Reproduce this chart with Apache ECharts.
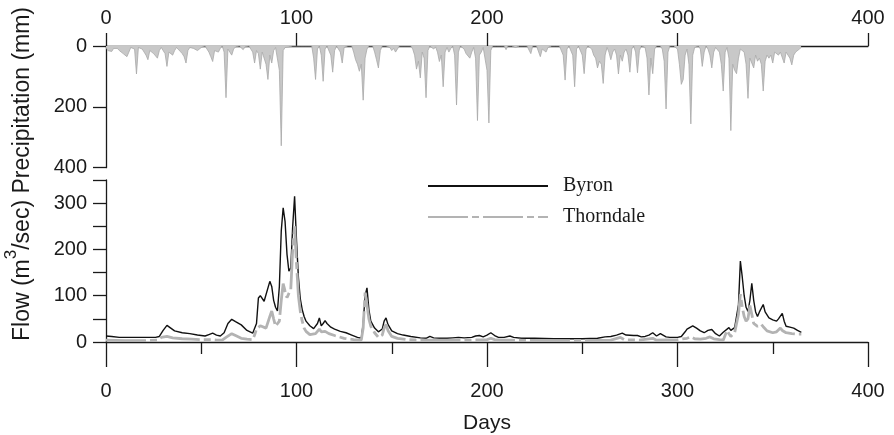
<!DOCTYPE html>
<html><head><meta charset="utf-8">
<script src="https://cdn.jsdelivr.net/npm/echarts@6/dist/echarts.min.js"></script>
<style>html,body{margin:0;padding:0;background:#fff}#c{width:894px;height:435px}</style>
</head><body><div id="c"></div>
<script>
// Daily precipitation (mm), index = day 0..365
const precipitation = [
  5,15,10,18,8,3,8,15,20,25,
  30,35,20,5,0,10,92,5,0,10,
  20,30,45,15,20,25,30,40,15,5,
  10,25,67,20,25,30,15,5,10,18,
  25,35,56,15,5,3,8,10,15,12,
  5,3,0,5,20,35,51,15,10,20,
  8,0,20,170,10,15,30,10,3,0,
  0,5,12,3,0,0,5,20,56,15,
  25,76,20,15,60,110,30,56,15,5,
  10,80,328,15,5,8,3,0,0,0,
  0,0,0,0,0,0,0,0,0,40,
  110,10,0,30,116,10,0,0,30,86,
  15,0,10,20,56,5,0,0,0,0,
  20,45,60,83,60,178,40,10,0,0,
  0,20,45,72,15,0,0,0,0,5,
  15,8,20,10,0,0,0,0,0,0,
  0,10,30,76,50,105,20,40,170,15,
  0,5,10,3,20,51,30,134,20,5,
  20,8,0,30,194,20,0,0,10,25,
  20,40,20,5,40,245,30,20,5,10,
  80,253,15,0,0,0,0,0,0,0,
  12,0,0,0,0,5,0,0,0,0,
  0,0,0,25,0,0,0,5,35,10,
  15,20,5,0,0,0,0,0,0,0,
  30,112,10,0,0,30,134,10,0,0,
  30,91,10,0,0,10,30,40,72,50,
  60,123,30,5,20,45,20,10,30,92,
  30,50,20,10,30,86,10,0,20,88,
  15,0,0,5,40,161,40,91,10,0,
  0,0,10,50,207,20,0,0,0,0,
  10,60,126,110,30,10,60,256,30,5,
  0,0,10,67,20,0,10,30,72,20,
  5,0,20,60,148,20,5,40,278,60,
  80,91,40,10,5,20,60,172,40,40,
  72,30,50,40,60,148,50,30,40,30,
  56,20,15,30,20,25,56,20,25,40,
  62,30,20,15,10,5
];

// Byron flow (m3/sec)
const byronDays = [
  0,3,7,15,20,26,28,30,32,34,
  36,40,44,48,52,54,56,58,60,62,
  64,66,68,71,74,77,79,80,81,83,
  84,86,87,88,89,90,91,92,93,94,
  95,96,97,98,99,100,101,102,103,104,
  105,107,109,110,111,112,113,114,115,116,
  118,120,123,126,129,132,134,135,136,137,
  138,139,141,143,144,145,146,147,148,150,
  153,156,160,165,168,170,172,175,179,182,
  185,188,192,194,196,198,200,202,204,206,
  209,212,214,218,225,235,244,250,258,262,
  265,268,271,273,274,277,279,281,283,285,
  287,289,291,292,294,296,298,300,302,304,
  305,308,310,312,314,316,317,318,320,322,
  324,325,327,328,330,331,332,333,334,335,
  336,337,338,339,340,341,342,343,345,346,
  348,350,352,353,355,356,357,359,361,363,
  365
];
const byronFlow = [
  13,12,10,10,10,10,12,25,36,30,
  24,20,18,15,13,16,19,15,13,20,
  40,49,44,37,25,19,40,95,100,88,
  85,131,120,90,75,67,120,240,290,260,
  190,153,160,250,315,220,140,93,70,55,
  45,35,29,28,40,52,35,40,46,40,
  32,28,23,20,15,10,8,40,100,117,
  70,45,30,22,20,28,45,52,38,24,
  18,15,12,9,8,12,9,8,8,9,
  10,9,10,13,14,11,15,20,14,10,
  10,13,10,8,8,7,7,7,8,11,
  12,15,19,15,12,14,14,11,12,15,
  20,13,18,22,11,10,10,10,12,22,
  28,35,30,24,20,25,28,27,18,13,
  21,20,31,25,31,28,80,175,140,100,
  75,66,90,127,90,65,55,65,81,65,
  52,48,45,50,62,45,34,32,30,25,
  21
];

// Thorndale flow (m3/sec)
const thorndaleDays = [
  0,10,20,27,29,30,32,35,40,45,
  50,55,58,61,63,66,68,71,74,77,
  78,79,81,82,84,86,87,88,89,90,
  91,92,93,94,95,96,97,98,99,100,
  101,102,103,104,105,107,108,110,112,113,
  115,117,120,125,130,134,135,136,137,138,
  139,141,143,144,145,146,147,148,150,153,
  158,165,175,190,200,202,204,210,240,265,
  270,272,280,287,289,300,305,307,309,312,
  315,317,319,322,324,326,327,328,330,331,
  332,333,334,335,336,337,338,339,340,342,
  344,345,347,350,352,354,355,357,360,363,
  365
];
const thorndaleFlow = [
  4,3,3,4,10,14,12,9,7,6,
  5,5,4,4,10,18,14,8,6,5,
  15,28,35,38,30,55,67,50,34,30,
  45,90,126,110,96,100,114,200,250,170,
  100,66,45,30,23,16,14,18,28,22,
  23,18,14,8,5,4,30,107,80,50,
  34,20,10,10,15,30,38,25,12,8,
  5,4,4,4,5,8,5,4,3,4,
  10,5,4,8,4,5,8,11,7,6,
  8,11,7,5,4,25,18,12,20,23,
  60,103,75,55,45,50,79,60,40,34,
  38,33,24,20,22,30,25,20,18,17,
  17
];

const seriesNames = ['Byron', 'Thorndale'];
const dayAxisName = 'Days';
const yTitle = '{a|Flow (m}{s|3}{a|/sec) Precipitation (mm)}';

const INK = '#1a1a1a';
const FONT = 'Liberation Sans';
const axisLine = { show: true, onZero: false, lineStyle: { color: INK, width: 1.3 } };
const tickStyle = { color: INK, width: 1.3 };
const labelBase = { color: INK, fontSize: 20, fontFamily: FONT };

const chart = echarts.init(document.getElementById('c'), null, { renderer: 'canvas' });
chart.setOption({
  animation: false,
  backgroundColor: '#fff',
  grid: [
    { left: 106, width: 762, top: 46, height: 121.7 },
    { left: 106, width: 762, top: 180, height: 168.7 }
  ],
  xAxis: [
    { gridIndex: 0, type: 'value', position: 'top', min: 0, max: 400, interval: 100,
      axisLine: axisLine, axisTick: { show: true, length: 13, lineStyle: tickStyle },
      axisLabel: Object.assign({ margin: 18 }, labelBase), splitLine: { show: false } },
    { gridIndex: 1, type: 'value', position: 'bottom', min: 0, max: 400, interval: 100,
      axisLine: axisLine, axisTick: { show: true, length: 25, lineStyle: tickStyle },
      minorTick: { show: true, splitNumber: 2, length: 12, lineStyle: tickStyle },
      axisLabel: Object.assign({ margin: 39 }, labelBase), splitLine: { show: false },
      name: dayAxisName, nameLocation: 'middle', nameGap: 71,
      nameTextStyle: { color: INK, fontSize: 21, fontFamily: FONT } }
  ],
  yAxis: [
    { gridIndex: 0, type: 'value', inverse: true, min: 0, max: 400, interval: 200,
      axisLine: axisLine, axisTick: { show: true, length: 13, lineStyle: tickStyle },
      axisLabel: Object.assign({ margin: 19 }, labelBase), splitLine: { show: false } },
    { gridIndex: 1, type: 'value', min: 0, max: 350, interval: 50,
      axisLine: axisLine, axisTick: { show: true, length: 13, lineStyle: tickStyle },
      axisLabel: Object.assign({ margin: 19, formatter: v => (v % 100 === 0 ? String(v) : '') }, labelBase),
      splitLine: { show: false } }
  ],
  legend: {
    data: seriesNames, orient: 'vertical', left: 427, top: 176, padding: 0,
    itemWidth: 120, itemHeight: 20, itemGap: 11,
    itemStyle: { opacity: 0 },
    textStyle: { color: INK, fontSize: 20, fontFamily: 'Liberation Serif', padding: [0, 0, 0, 10] }
  },
  graphic: [{
    type: 'text', x: 23, y: 174, rotation: Math.PI / 2,
    style: {
      text: yTitle, align: 'center', verticalAlign: 'middle',
      rich: {
        a: { fontSize: 23, fontFamily: FONT, fill: INK, lineHeight: 40 },
        s: { fontSize: 17, fontFamily: FONT, fill: INK, lineHeight: 12, verticalAlign: 'top' }
      }
    }
  }],
  series: [
    { name: 'Precipitation', type: 'line', xAxisIndex: 0, yAxisIndex: 0,
      data: precipitation.map((v, i) => [i, v]), symbol: 'none', silent: true,
      lineStyle: { color: '#a8a8a8', width: 0.8 }, areaStyle: { color: '#c8c8c8', opacity: 1 } },
    { name: 'Byron', type: 'line', xAxisIndex: 1, yAxisIndex: 1,
      data: byronDays.map((d, i) => [d, byronFlow[i]]), symbol: 'none',
      lineStyle: { color: '#111', width: 1.4 }, itemStyle: { color: '#111' } },
    { name: 'Thorndale', type: 'line', xAxisIndex: 1, yAxisIndex: 1,
      data: thorndaleDays.map((d, i) => [d, thorndaleFlow[i]]), symbol: 'none',
      lineStyle: { color: '#b3b3b3', width: 2.8, type: [40, 4, 7, 4] }, itemStyle: { color: '#b3b3b3' } }
  ]
});
</script>
</body></html>
